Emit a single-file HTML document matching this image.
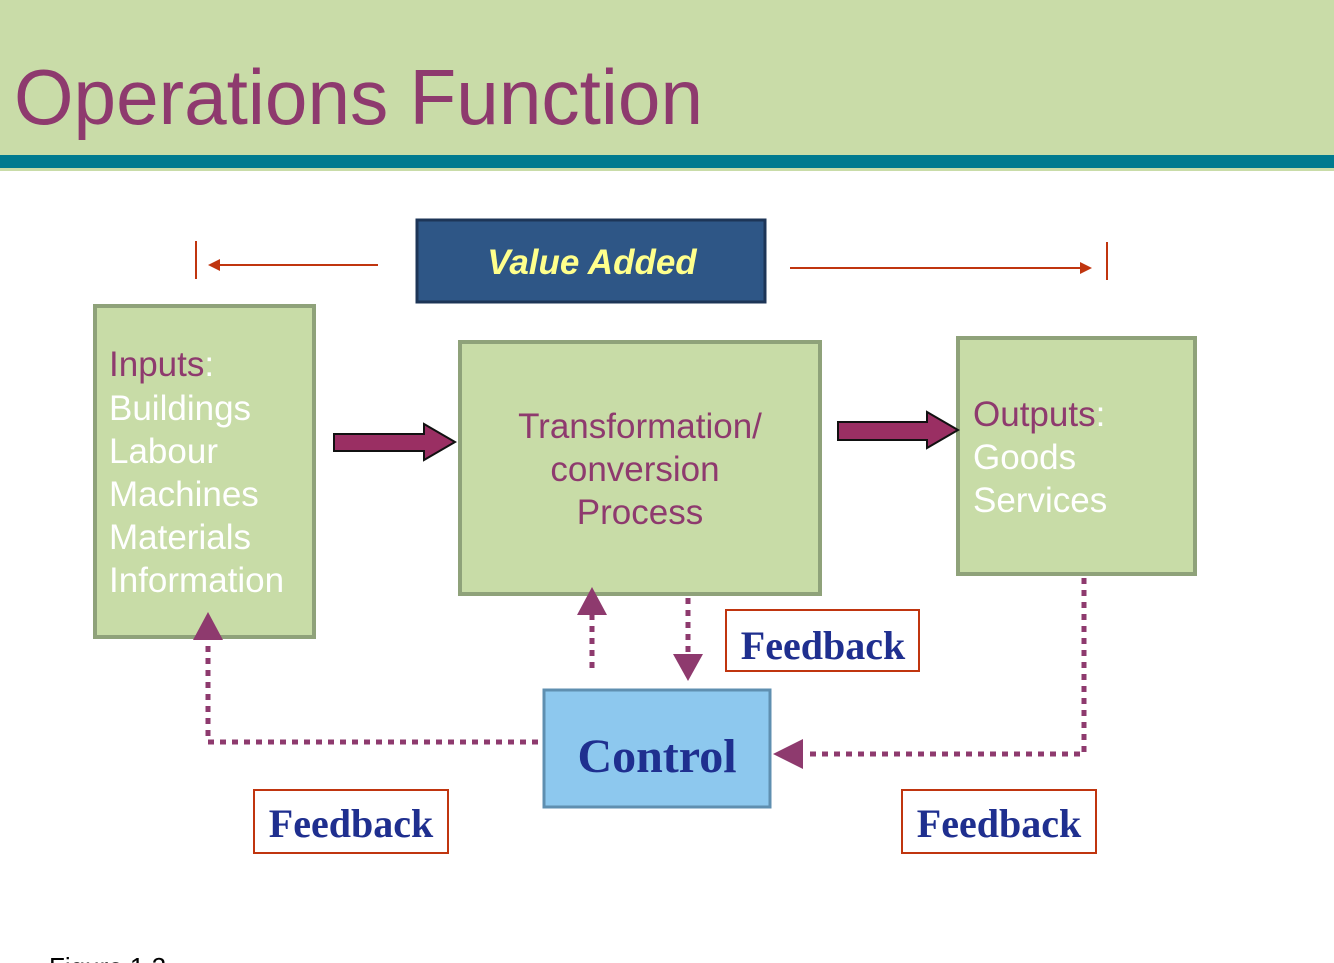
<!DOCTYPE html>
<html><head><meta charset="utf-8"><style>
html,body{margin:0;padding:0;background:#fff;width:1334px;height:963px;overflow:hidden}
svg{display:block}
</style></head><body>
<svg width="1334" height="963" viewBox="0 0 1334 963" xmlns="http://www.w3.org/2000/svg" font-family="Liberation Sans, sans-serif">
<rect x="0" y="0" width="1334" height="155" fill="#c9dca8"/>
<rect x="0" y="155" width="1334" height="13" fill="#007a8f"/>
<rect x="0" y="168" width="1334" height="3" fill="#c9dca8"/>
<text x="14" y="124" font-size="78" fill="#8e3a6e" textLength="689" lengthAdjust="spacingAndGlyphs">Operations Function</text>

<g stroke="#c0350f" stroke-width="2" fill="#c0350f">
<line x1="196" y1="241" x2="196" y2="279"/>
<line x1="218" y1="265" x2="378" y2="265"/>
<polygon points="208,265 220,259 220,271" stroke="none"/>
<line x1="790" y1="268" x2="1082" y2="268"/>
<polygon points="1092,268 1080,262 1080,274" stroke="none"/>
<line x1="1107" y1="242" x2="1107" y2="280"/>
</g>
<rect x="417" y="220" width="348" height="82" fill="#2e5686" stroke="#1d3557" stroke-width="3"/>
<text x="592" y="274" text-anchor="middle" font-size="35" font-weight="bold" font-style="italic" fill="#ffff8c">Value Added</text>

<g fill="#c8dca7" stroke="#8fa27a" stroke-width="4">
<rect x="95" y="306" width="219" height="331"/>
<rect x="460" y="342" width="360" height="252"/>
<rect x="958" y="338" width="237" height="236"/>
</g>
<g font-size="35" fill="#fff">
<text x="109" y="376"><tspan fill="#8e3a6e">Inputs</tspan>:</text>
<text x="109" y="420">Buildings</text>
<text x="109" y="463">Labour</text>
<text x="109" y="506">Machines</text>
<text x="109" y="549">Materials</text>
<text x="109" y="592">Information</text>
<text x="973" y="426"><tspan fill="#8e3a6e">Outputs</tspan>:</text>
<text x="973" y="469">Goods</text>
<text x="973" y="512">Services</text>
</g>
<g font-size="35" fill="#8e3a6e" text-anchor="middle">
<text x="640" y="438">Transformation/</text>
<text x="635" y="481">conversion</text>
<text x="640" y="524">Process</text>
</g>

<g fill="#9a2f63" stroke="#111" stroke-width="2">
<polygon points="334,434 424,434 424,424 455,442 424,460 424,451 334,451"/>
<polygon points="838,422 927,422 927,412 958,430 927,448 927,440 838,440"/>
</g>

<g stroke="#8e3a6e" stroke-width="5" stroke-dasharray="6 6" fill="none">
<polyline points="538,742 208,742 208,640"/>
<line x1="592" y1="668" x2="592" y2="614"/>
<line x1="688" y1="598" x2="688" y2="656"/>
<polyline points="1084,578 1084,754 806,754"/>
</g>
<g fill="#8e3a6e">
<polygon points="208,612 193,640 223,640"/>
<polygon points="592,587 577,615 607,615"/>
<polygon points="688,681 673,654 703,654"/>
<polygon points="773,754 803,739 803,769"/>
</g>

<rect x="544" y="690" width="226" height="117" fill="#8dc8ee" stroke="#5f8fb0" stroke-width="3"/>
<text x="657" y="772" text-anchor="middle" font-size="48" font-weight="bold" fill="#1f2f8f" font-family="Liberation Serif, serif">Control</text>

<g fill="#fff" stroke="#c0350f" stroke-width="2">
<rect x="726" y="610" width="193" height="61"/>
<rect x="254" y="790" width="194" height="63"/>
<rect x="902" y="790" width="194" height="63"/>
</g>
<g font-size="40" font-weight="bold" fill="#1f2f8f" font-family="Liberation Serif, serif" text-anchor="middle">
<text x="823" y="659">Feedback</text>
<text x="351" y="837">Feedback</text>
<text x="999" y="837">Feedback</text>
</g>
<text x="49" y="976" font-size="26" fill="#000">Figure 1.2</text>
</svg>
</body></html>
